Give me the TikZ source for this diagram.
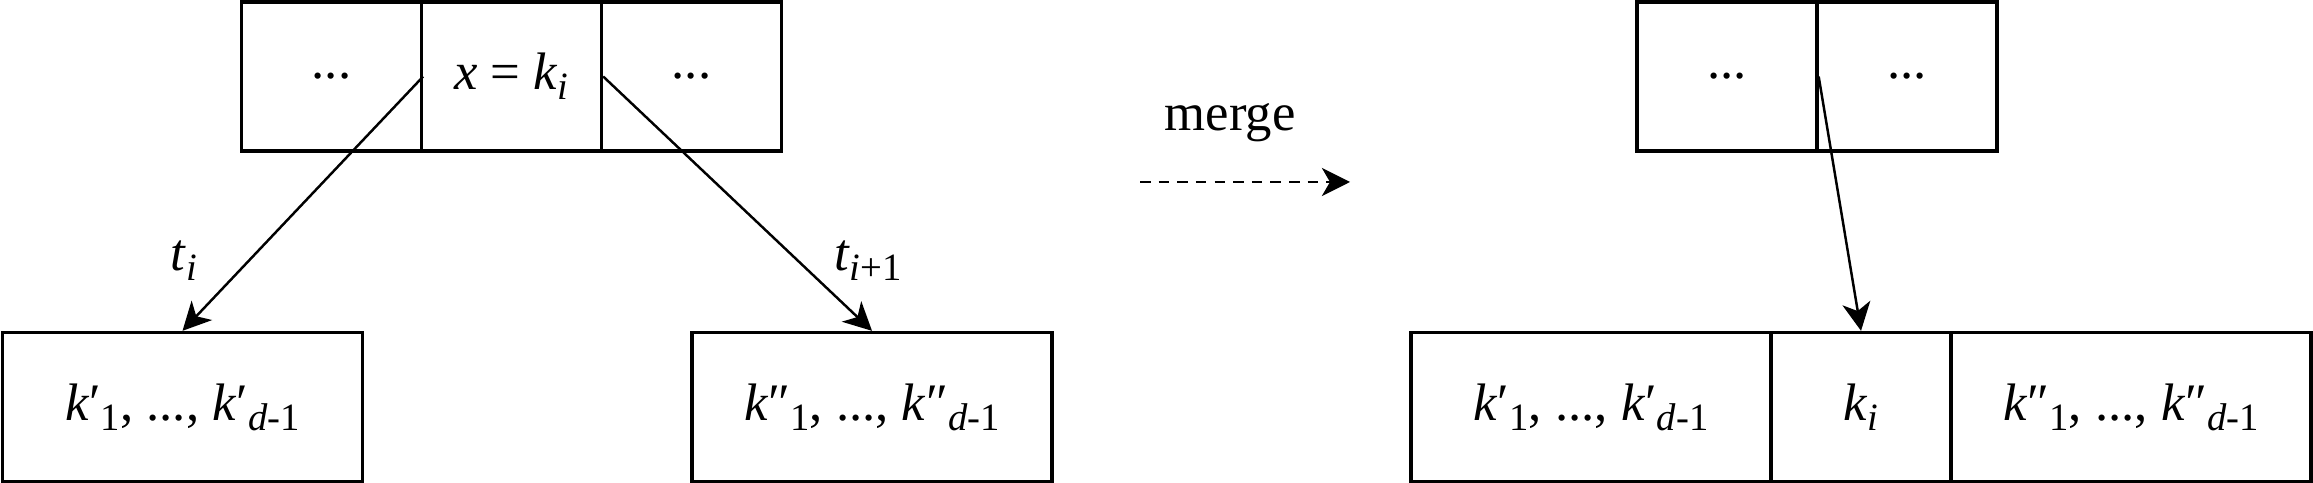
\documentclass[tikz,border=0pt]{standalone}
\usepackage{fontspec}
\setmainfont{Liberation Serif}
\usetikzlibrary{arrows.meta}
\newcommand{\lo}[1]{\raisebox{-0.42ex}{\fontsize{11}{12}\selectfont #1}}

\begin{document}
\begin{tikzpicture}
		\tikzstyle{cell}=[draw=black, line width=0.95pt, shape=rectangle, minimum height=1.49cm, inner sep=0pt, font=\fontsize{15}{17}\selectfont];
		\tikzstyle{small}=[cell, minimum width=1.8cm];
		\tikzstyle{wide}=[cell, minimum width=3.6cm];
		\tikzstyle{tag}=[inner sep=0pt, font=\fontsize{15}{17}\selectfont];
		\tikzstyle{link}=[line width=0.7pt, -{Stealth[length=8pt, width=8pt, inset=2.3pt]}];

		\useasboundingbox (0,0) rectangle (23.13,4.83);

		% before
		\node[small] (P1) at (3.315,4.065) {...};
		\node[small] (P2) at (5.115,4.065) {\textit{x} = \textit{k}\lo{\textit{i}}};
		\node[small] (P3) at (6.915,4.065) {...};
		\node[wide] (L) at (1.825,0.76) {\textit{k}′\lo{1}, ..., \textit{k}′\lo{\textit{d}-1}};
		\node[wide] (R) at (8.72,0.76) {\textit{k}″\lo{1}, ..., \textit{k}″\lo{\textit{d}-1}};
		\node[tag] (ti) at (1.84,2.22) {\textit{t}\lo{\textit{i}}};
		\node[tag] (tj) at (8.68,2.22) {\textit{t}\lo{\textit{i}+1}};

		\draw[link] (P1.east) to (L.north) ;
		\draw[link] (P2.east) to (R.north) ;

		% merge
		\node[tag] (mg) at (12.30,3.60) {merge};
		\coordinate (m0) at (11.40,3.01);
		\coordinate (m1) at (13.50,3.01);
		\draw[link, dash pattern=on 3pt off 2.3pt] (m0) to (m1) ;

		% after
		\node[small] (Q1) at (17.27,4.065) {...};
		\node[small] (Q2) at (19.07,4.065) {...};
		\node[wide] (ML) at (15.91,0.76) {\textit{k}′\lo{1}, ..., \textit{k}′\lo{\textit{d}-1}};
		\node[small] (MK) at (18.61,0.76) {\textit{k}\lo{\textit{i}}};
		\node[wide] (MR) at (21.31,0.76) {\textit{k}″\lo{1}, ..., \textit{k}″\lo{\textit{d}-1}};

		\draw[link] (Q1.east) to (MK.north) ;
\end{tikzpicture}
\end{document}
